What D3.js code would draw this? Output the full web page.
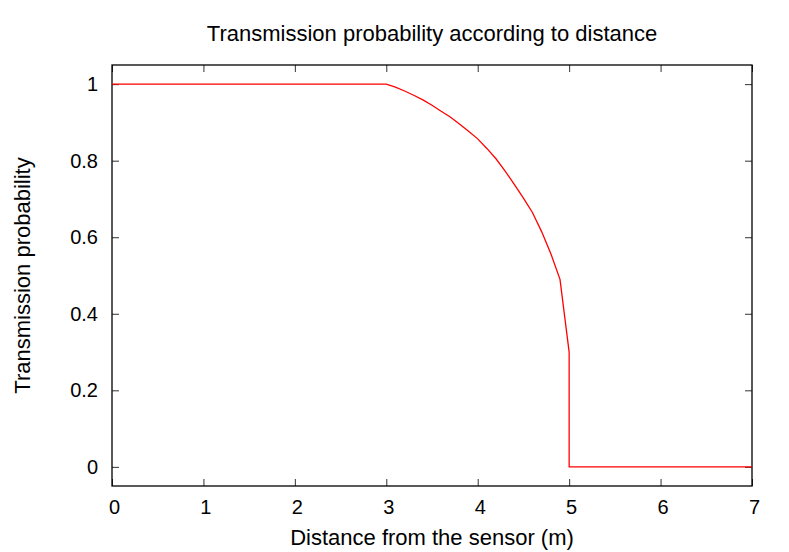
<!DOCTYPE html>
<meta charset="utf-8">
<style>
body { margin: 0; background: #fff; }
text { font-family: "Liberation Sans", Arial, sans-serif; fill: #000; }
.tick line { stroke: #333; }
</style>
<body>
<script src="https://d3js.org/d3.v7.min.js"></script>
<script>
// curve
var distance = [0, 3, 3.1, 3.2, 3.3, 3.4, 3.5, 3.6, 3.7, 3.8, 3.9, 4.0, 4.1, 4.2, 4.3, 4.4, 4.5, 4.6, 4.7, 4.8, 4.9, 5.0, 5.0, 7];
var prob =     [1, 1, 0.992, 0.982, 0.971, 0.959, 0.945, 0.929, 0.914, 0.896, 0.877, 0.857, 0.832, 0.805, 0.773, 0.738, 0.702, 0.664, 0.614, 0.557, 0.49, 0.30, 0, 0];
var xTicks = [0, 1, 2, 3, 4, 5, 6, 7];
var yTicks = [0, 0.2, 0.4, 0.6, 0.8, 1];

var W = 789, H = 552;
var margin = {top: 65, right: 37, bottom: 66, left: 112},
    width = W - margin.left - margin.right,
    height = H - margin.top - margin.bottom;

var svg = d3.select("body").append("svg")
    .attr("width", W)
    .attr("height", H);

var g = svg.append("g")
    .attr("transform", "translate(" + margin.left + "," + margin.top + ")");

var x = d3.scaleLinear().domain([0, 7]).range([0, width]);
var y = d3.scaleLinear().domain([-0.05, 1.05]).range([height, 0]);

// axes, ticks inside and mirrored
g.append("g")
    .attr("transform", "translate(0," + height + ")")
    .call(d3.axisBottom(x).tickValues(xTicks).tickFormat(d3.format("d")).tickSize(-7).tickPadding(14))
    .call(function(a) { a.select(".domain").remove(); a.selectAll("text").style("font-size", "20px").attr("dx", 2); });
g.append("g")
    .call(d3.axisTop(x).tickValues(xTicks).tickFormat("").tickSize(-7))
    .call(function(a) { a.select(".domain").remove(); });
g.append("g")
    .call(d3.axisLeft(y).tickValues(yTicks).tickFormat(d3.format("")).tickSize(-7).tickPadding(14))
    .call(function(a) { a.select(".domain").remove(); a.selectAll("text").style("font-size", "20px"); });
g.append("g")
    .attr("transform", "translate(" + width + ",0)")
    .call(d3.axisRight(y).tickValues(yTicks).tickFormat("").tickSize(-7))
    .call(function(a) { a.select(".domain").remove(); });

g.selectAll(".tick text").attr("font-family", null);

g.append("rect")
    .attr("width", width)
    .attr("height", height)
    .attr("fill", "none")
    .attr("stroke", "#000")
    .attr("stroke-width", 1.3);

var pts = distance.map(function(d, i) { return [d, prob[i]]; });
g.append("path")
    .datum(pts)
    .attr("fill", "none")
    .attr("stroke", "#ff0000")
    .attr("stroke-width", 1.3)
    .attr("d", d3.line().x(function(d) { return x(d[0]); }).y(function(d) { return y(d[1]); }));

svg.append("text")
    .attr("x", 432)
    .attr("y", 41)
    .attr("text-anchor", "middle")
    .style("font-size", "22px")
    .text("Transmission probability according to distance");

svg.append("text")
    .attr("x", 432)
    .attr("y", 545)
    .attr("text-anchor", "middle")
    .style("font-size", "22px")
    .text("Distance from the sensor (m)");

svg.append("text")
    .attr("transform", "translate(30," + (margin.top + height / 2) + ")rotate(-90)")
    .attr("text-anchor", "middle")
    .style("font-size", "22px")
    .text("Transmission probability");
</script>
</body>
